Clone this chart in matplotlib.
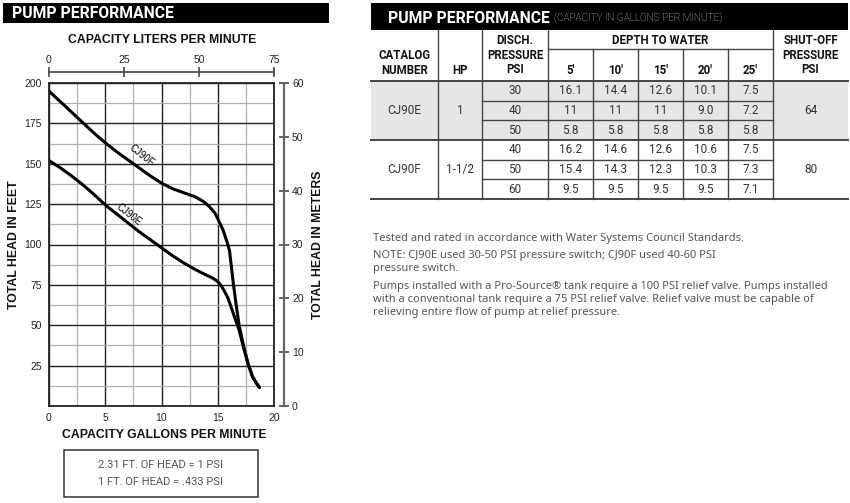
import matplotlib
matplotlib.use("Agg")
import matplotlib.pyplot as plt
from matplotlib.patches import Rectangle

# ---------------- data ----------------
gpm_F = [0, 1, 2, 3, 4, 5, 6, 7, 8, 9, 10, 11, 12, 13, 13.75, 14.25, 14.75, 15, 15.5,
         15.85, 16.05, 16.2, 16.4, 16.65, 16.9, 17.3, 17.7, 18.1, 18.4, 18.7]
ft_F = [195, 188.5, 182, 175.5, 169, 163, 157.5, 152.5, 147.5, 142.5, 138, 134.5, 132, 129.5,
        126.5, 123.5, 119.5, 116, 108.5, 101, 96, 87, 75, 62, 50, 37, 26, 18, 14.5, 11.5]
gpm_E = [0, 1, 2, 3, 4, 5, 6, 7, 8, 9, 10, 11, 12, 13, 14, 14.6, 15, 15.3, 15.6, 15.9,
         16.2, 16.5, 16.9, 17.3, 17.7, 18.1, 18.4, 18.7]
ft_E = [152, 147.5, 142.5, 137, 131, 124.5, 119, 113.5, 108, 103, 98, 93, 88.5, 84.5, 81,
        79, 77, 74.5, 71, 67, 61, 55, 47, 36, 26, 18, 14.5, 11.5]

gpm_ticks = [0, 5, 10, 15, 20]
lpm_ticks = [0, 25, 50, 75]
ft_ticks = [25, 50, 75, 100, 125, 150, 175, 200]
m_ticks = [0, 10, 20, 30, 40, 50, 60]

catalog = ["CJ90E", "CJ90F"]
hp = ["1", "1-1/2"]
shutoff = ["64", "80"]
disch_psi = [["30", "40", "50"], ["40", "50", "60"]]
depths = ["5'", "10'", "15'", "20'", "25'"]
capacity = [
    [["16.1", "14.4", "12.6", "10.1", "7.5"],
     ["11", "11", "11", "9.0", "7.2"],
     ["5.8", "5.8", "5.8", "5.8", "5.8"]],
    [["16.2", "14.6", "12.6", "10.6", "7.5"],
     ["15.4", "14.3", "12.3", "10.3", "7.3"],
     ["9.5", "9.5", "9.5", "9.5", "7.1"]],
]
conversions = ["2.31 FT. OF HEAD = 1 PSI", "1 FT. OF HEAD = .433 PSI"]
notes = [
    "Tested and rated in accordance with Water Systems Council Standards.",
    "NOTE: CJ90E used 30-50 PSI pressure switch; CJ90F used 40-60 PSI\npressure switch.",
    "Pumps installed with a Pro-Source\u00ae tank require a 100 PSI relief valve. Pumps installed\nwith a conventional tank require a 75 PSI relief valve. Relief valve must be capable of\nrelieving entire flow of pump at relief pressure.",
]

W, H = 850, 503
fig = plt.figure(figsize=(W / 100, H / 100), dpi=100)
fig.patch.set_facecolor("white")

# overlay axes in pixel coordinates
bg = fig.add_axes([0, 0, 1, 1], zorder=0)
bg.set_xlim(0, W)
bg.set_ylim(H, 0)
bg.axis("off")

HEL = "Liberation Sans"
DIN = "Roboto"

# ---------------- left chart ----------------
bg.add_patch(Rectangle((3, 3), 326, 20, facecolor="black", edgecolor="none"))
bg.text(12, 13.5, "PUMP PERFORMANCE", color="white", fontsize=11.3, fontweight="bold",
        family=DIN, va="center", ha="left")

ax = fig.add_axes([49 / W, 1 - 406 / H, 225 / W, 323 / H], zorder=2)
ax.set_xlim(0, 20)
ax.set_ylim(0, 200)
ax.set_xticks(gpm_ticks)
ax.set_xticks([2.5, 7.5, 12.5, 17.5], minor=True)
ax.set_yticks(ft_ticks)
ax.set_yticks([12.5 + 25 * i for i in range(8)], minor=True)
ax.grid(which="major", color="#222222", lw=1.0)
ax.grid(which="minor", color="#b0b0b0", lw=0.9)
ax.set_axisbelow(True)
ax.tick_params(which="both", length=0, labelsize=7.5, labelcolor="#222222")
ax.tick_params(axis="x", pad=5)
ax.tick_params(axis="y", pad=5)
for lab in ax.get_xticklabels() + ax.get_yticklabels():
    lab.set_family(HEL)
for s in ax.spines.values():
    s.set_color("#222222")
    s.set_linewidth(1.3)

ax.plot(gpm_F, ft_F, color="black", lw=2.2, solid_capstyle="round", solid_joinstyle="round")
ax.plot(gpm_E, ft_E, color="black", lw=2.2, solid_capstyle="round", solid_joinstyle="round")
ax.text(8.2, 155.4, "CJ90F", rotation=-38, fontsize=7, family=HEL, ha="center", va="center")
ax.text(7.1, 118.3, "CJ90E", rotation=-38, fontsize=7, family=HEL, ha="center", va="center")

# top axis (liters per minute)
axt = ax.twiny()
axt.set_xlim(0, 75)
axt.set_xticks(lpm_ticks)
for k in ["bottom", "left", "right"]:
    axt.spines[k].set_visible(False)
axt.spines["top"].set_position(("outward", 8))
axt.spines["top"].set_color("#444444")
axt.spines["top"].set_linewidth(1.2)
axt.tick_params(axis="x", direction="inout", length=7, width=1.2, color="#444444",
                labelsize=7.5, labelcolor="#222222", pad=1.5)
for lab in axt.get_xticklabels():
    lab.set_family(HEL)

# right axis (meters)
axr = ax.twinx()
axr.set_ylim(0, 60)
axr.set_yticks(m_ticks)
for k in ["bottom", "left", "top"]:
    axr.spines[k].set_visible(False)
axr.spines["right"].set_position(("outward", 7.5))
axr.spines["right"].set_color("#666666")
axr.spines["right"].set_linewidth(1.6)
axr.tick_params(axis="y", direction="inout", length=7, width=1.3, color="#555555",
                labelsize=7.5, labelcolor="#222222", pad=2)
for lab in axr.get_yticklabels():
    lab.set_family(HEL)

bg.text(162, 40, "CAPACITY LITERS PER MINUTE", fontsize=8.8, fontweight="bold", family=HEL,
        ha="center", va="center", color="#111111")
bg.text(164, 434.5, "CAPACITY GALLONS PER MINUTE", fontsize=8.8, fontweight="bold", family=HEL,
        ha="center", va="center", color="#111111")
bg.text(14, 245, "TOTAL HEAD IN FEET", fontsize=8.8, fontweight="bold", family=HEL,
        ha="center", va="center", rotation=90, color="#111111")
bg.text(318, 245, "TOTAL HEAD IN METERS", fontsize=8.8, fontweight="bold", family=HEL,
        ha="center", va="center", rotation=90, color="#111111")

bg.add_patch(Rectangle((64, 450), 194, 47, facecolor="white", edgecolor="#333333", lw=1.1))
bg.text(161, 465, conversions[0], fontsize=8, family=DIN, color="#555555", ha="center", va="center")
bg.text(161, 482, conversions[1], fontsize=8, family=DIN, color="#555555", ha="center", va="center")

# ---------------- right table ----------------
bg.add_patch(Rectangle((371, 3), 477, 27, facecolor="black", edgecolor="none"))
bg.text(388, 18, "PUMP PERFORMANCE", color="white", fontsize=11.3, fontweight="bold",
        family=DIN, va="center", ha="left")
bg.text(554, 18.5, "(CAPACITY IN GALLONS PER MINUTE)", color="#dddddd", fontsize=7.2,
        fontweight="light", family=DIN, va="center", ha="left")

cols = [371, 437.7, 482, 548, 593, 638, 683, 728, 773, 848]
top, mid, hbot = 30, 49, 81
rows = [81, 100.7, 120.3, 140, 159.7, 179.3, 199]

bg.add_patch(Rectangle((371, 81), 477, 59, facecolor="#e6e6e6", edgecolor="none"))
line_c = "#444444"
for y in (81, 140, 199):
    bg.plot([371, 848], [y, y], color=line_c, lw=1.4)
for x in (437.7, 482, 548, 773):
    bg.plot([x, x], [top, 199], color=line_c, lw=1.0)
for x in cols[4:8]:
    bg.plot([x, x], [mid, 199], color=line_c, lw=1.0)
bg.plot([548, 773], [mid, mid], color=line_c, lw=1.0)
for y in (rows[1], rows[2], rows[4], rows[5]):
    bg.plot([482, 773], [y, y], color=line_c, lw=1.0)

hkw = dict(fontsize=8.3, fontweight="bold", family=DIN, ha="center", va="center",
           color="#111111", linespacing=1.12)
bg.text(404.3, 63, "CATALOG\nNUMBER", **hkw)
bg.text(459.8, 70, "HP", **hkw)
bg.text(515, 55, "DISCH.\nPRESSURE\nPSI", **hkw)
bg.text(660.5, 40, "DEPTH TO WATER", **hkw)
bg.text(810.5, 55, "SHUT-OFF\nPRESSURE\nPSI", **hkw)
for j, d in enumerate(depths):
    bg.text((cols[3 + j] + cols[4 + j]) / 2, 70, d, **hkw)

dkw = dict(fontsize=8.5, family=DIN, ha="center", va="center", color="#333333")
for g in range(2):
    y0, y1 = rows[3 * g], rows[3 * g + 3]
    ym = (y0 + y1) / 2
    bg.text((cols[0] + cols[1]) / 2, ym, catalog[g], **dkw)
    bg.text((cols[1] + cols[2]) / 2, ym, hp[g], **dkw)
    bg.text((cols[8] + cols[9]) / 2, ym, shutoff[g], **dkw)
    for r in range(3):
        yr = (rows[3 * g + r] + rows[3 * g + r + 1]) / 2
        bg.text((cols[2] + cols[3]) / 2, yr, disch_psi[g][r], **dkw)
        for j in range(5):
            bg.text((cols[3 + j] + cols[4 + j]) / 2, yr, capacity[g][r][j], **dkw)

nkw = dict(fontsize=8, family="Noto Sans", ha="left", va="top", color="#555555",
           linespacing=1.22)
bg.text(373, 233, notes[0], **nkw)
bg.text(373, 250, notes[1], **nkw)
bg.text(373, 281, notes[2], **nkw)

fig.savefig("out.png", dpi=100, facecolor="white")
